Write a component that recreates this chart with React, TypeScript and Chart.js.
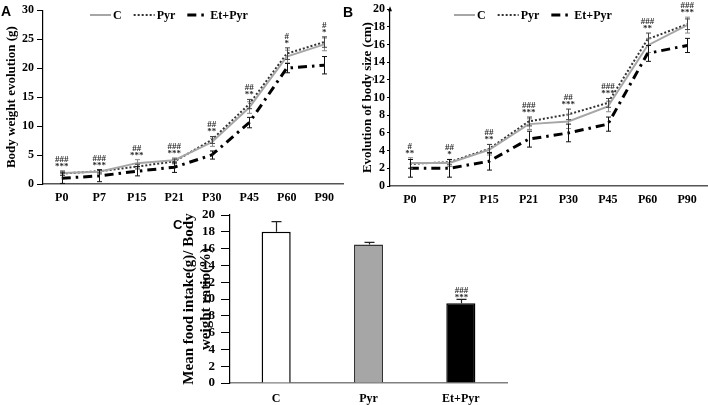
import React, { useEffect, useRef } from 'react';
import { Chart, registerables } from 'chart.js';

Chart.register(...registerables);

// ---- data ----
const days = ['P0', 'P7', 'P15', 'P21', 'P30', 'P45', 'P60', 'P90'];

const weightC = [1.9, 2.1, 3.6, 4.1, 7.2, 13.2, 22.0, 24.1];
const weightPyr = [1.8, 2.2, 3.0, 3.9, 7.6, 13.8, 22.5, 24.5];
const weightEtPyr = [1.0, 1.4, 2.2, 2.9, 5.0, 10.6, 20.0, 20.5];
const weightErrC = [0.4, 0.4, 0.6, 0.4, 0.7, 1.0, 1.1, 1.1];
const weightErrPyr = [0.3, 0.3, 0.4, 0.4, 0.6, 0.8, 1.0, 0.9];
const weightErrEtPyr = [0.9, 1.0, 0.8, 0.9, 0.7, 0.9, 0.8, 1.5];
const weightHash = ['###', '###', '##', '###', '##', '##', '#', '#'];
const weightStar = ['***', '***', '***', '***', '**', '**', '*', '*'];

const sizeC = [2.6, 2.6, 4.1, 7.0, 7.3, 9.0, 15.9, 18.2];
const sizePyr = [2.5, 2.7, 4.2, 7.3, 8.1, 9.4, 16.6, 18.3];
const sizeEtPyr = [2.0, 2.0, 2.8, 5.3, 6.0, 7.0, 15.0, 15.9];
const sizeErrC = [0.6, 0.4, 0.6, 0.6, 0.8, 0.6, 0.8, 0.9];
const sizeErrPyr = [0.5, 0.3, 0.5, 0.5, 0.6, 0.5, 0.7, 0.6];
const sizeErrEtPyr = [1.0, 1.0, 1.0, 0.9, 1.0, 0.8, 0.9, 0.8];
const sizeHash = ['#', '##', '##', '###', '##', '###', '###', '###'];
const sizeStar = ['**', '*', '**', '***', '***', '***', '**', '***'];

const groups = ['C', 'Pyr', 'Et+Pyr'];
const intake = [18.0, 16.5, 9.5];
const intakeErr = [1.2, 0.25, 0.45];
const intakeHash = ['', '', '###'];
const intakeStar = ['', '', '***'];

// ---- styles ----
const SERIF = "'Liberation Serif', 'Times New Roman', serif";
const SANS = "'Liberation Sans', Arial, sans-serif";

const styleC = { borderColor: '#a6a6a6', borderWidth: 2, borderDash: [] as number[], errColor: '#8a8a8a' };
const stylePyr = { borderColor: '#333333', borderWidth: 2, borderDash: [2, 2], errColor: '#444444' };
const styleEtPyr = { borderColor: '#000000', borderWidth: 3, borderDash: [9, 5, 2.5, 5], errColor: '#111111' };

type Extras = {
  errs: number[][];
  hash: string[];
  star: string[];
  legendX: number;
  legendY: number;
  arrow?: boolean;
};

function lineExtras(ex: Extras) {
  return {
    id: 'lineExtras',
    afterDatasetsDraw(chart: any) {
      const { ctx } = chart;
      const xs = chart.scales.x;
      const ys = chart.scales.y;
      const tops: number[] = days.map(() => Infinity);
      chart.data.datasets.forEach((ds: any, di: number) => {
        const err = ex.errs[di];
        ctx.save();
        ctx.strokeStyle = ds.errColor;
        ctx.lineWidth = 1;
        ctx.setLineDash([]);
        ds.data.forEach((v: number, i: number) => {
          const px = Math.round(xs.getPixelForValue(i)) + 0.5;
          const top = ys.getPixelForValue(v + err[i]);
          const bot = ys.getPixelForValue(v - err[i]);
          tops[i] = Math.min(tops[i], top);
          ctx.beginPath();
          ctx.moveTo(px, top);
          ctx.lineTo(px, bot);
          ctx.moveTo(px - 2.5, top);
          ctx.lineTo(px + 2.5, top);
          ctx.moveTo(px - 2.5, bot);
          ctx.lineTo(px + 2.5, bot);
          ctx.stroke();
        });
        ctx.restore();
      });
      // significance marks
      ctx.save();
      ctx.fillStyle = '#2a2a2a';
      ctx.font = `bold 9px ${SERIF}`;
      ctx.textAlign = 'center';
      ctx.textBaseline = 'alphabetic';
      days.forEach((_d, i) => {
        const px = xs.getPixelForValue(i);
        ctx.fillText(ex.star[i], px, tops[i] - 2);
        ctx.fillText(ex.hash[i], px, tops[i] - 9);
      });
      ctx.restore();
    },
    afterDraw(chart: any) {
      const { ctx } = chart;
      // legend
      ctx.save();
      ctx.font = `bold 12px ${SERIF}`;
      ctx.textBaseline = 'middle';
      ctx.fillStyle = '#000';
      let cx = ex.legendX;
      const y = ex.legendY;
      chart.data.datasets.forEach((ds: any) => {
        ctx.strokeStyle = ds.borderColor;
        ctx.lineWidth = ds.borderWidth;
        ctx.setLineDash(ds.borderDash);
        ctx.beginPath();
        ctx.moveTo(cx, y);
        ctx.lineTo(cx + 21, y);
        ctx.stroke();
        ctx.setLineDash([]);
        ctx.fillText(ds.label, cx + 23, y + 1);
        cx += 23 + ctx.measureText(ds.label).width + 12;
      });
      if (ex.arrow) {
        const ax = chart.chartArea.left;
        const at = chart.chartArea.top;
        ctx.fillStyle = '#000';
        ctx.beginPath();
        ctx.moveTo(ax, at - 3);
        ctx.lineTo(ax - 2, at + 2);
        ctx.lineTo(ax + 2, at + 2);
        ctx.closePath();
        ctx.fill();
      }
      ctx.restore();
    },
  };
}

function makeLineConfig(opts: {
  c: number[]; pyr: number[]; et: number[];
  extras: Extras;
  max: number; step: number; title: string;
  yWidth: number; xHeight: number; padTop: number; padRight: number;
  titlePad: number; tickLen: number; tickPad: number; xPad: number;
}) {
  const tickFont = { family: SERIF, size: 12, weight: 'bold' as const };
  return {
    type: 'line' as const,
    data: {
      labels: days,
      datasets: [
        { label: 'C', data: opts.c, ...styleC, pointRadius: 0, tension: 0, fill: false },
        { label: 'Pyr', data: opts.pyr, ...stylePyr, pointRadius: 0, tension: 0, fill: false },
        { label: 'Et+Pyr', data: opts.et, ...styleEtPyr, pointRadius: 0, tension: 0, fill: false },
      ],
    },
    options: {
      responsive: false,
      animation: false as const,
      events: [] as any[],
      layout: { padding: { top: opts.padTop, right: opts.padRight, left: 0, bottom: 0 } },
      plugins: { legend: { display: false }, tooltip: { enabled: false } },
      scales: {
        x: {
          offset: true,
          grid: { display: false, drawTicks: false },
          border: { color: '#555', width: 1.5 },
          ticks: { color: '#000', font: tickFont, padding: opts.xPad, autoSkip: false, maxRotation: 0 },
          afterFit: (s: any) => { s.height = opts.xHeight; },
        },
        y: {
          min: 0,
          max: opts.max,
          grid: { display: true, drawOnChartArea: false, drawTicks: true, tickLength: opts.tickLen, color: '#000' },
          border: { color: '#000', width: 1.2 },
          ticks: { stepSize: opts.step, autoSkip: false, color: '#000', font: tickFont, padding: opts.tickPad },
          title: {
            display: true,
            text: opts.title,
            color: '#000',
            font: { family: SERIF, size: 13, weight: 'bold' as const },
            padding: { top: opts.titlePad, bottom: 0 },
          },
          afterFit: (s: any) => { s.width = opts.yWidth; },
        },
      },
    },
    plugins: [lineExtras(opts.extras)],
  };
}

function WeightChart() {
  const ref = useRef<HTMLCanvasElement>(null);
  useEffect(() => {
    const chart = new Chart(ref.current!, makeLineConfig({
      c: weightC, pyr: weightPyr, et: weightEtPyr,
      extras: { errs: [weightErrC, weightErrPyr, weightErrEtPyr], hash: weightHash, star: weightStar, legendX: 90, legendY: 15 },
      max: 30, step: 5, title: 'Body weight evolution (g)',
      yWidth: 43, xHeight: 26, padTop: 9, padRight: 7, titlePad: 4, tickLen: 6, tickPad: 3, xPad: 7,
    }) as any);
    return () => chart.destroy();
  }, []);
  return <canvas ref={ref} width={350} height={210} style={{ position: 'absolute', left: 0, top: 0 }} />;
}

function SizeChart() {
  const ref = useRef<HTMLCanvasElement>(null);
  useEffect(() => {
    const chart = new Chart(ref.current!, makeLineConfig({
      c: sizeC, pyr: sizePyr, et: sizeEtPyr,
      extras: { errs: [sizeErrC, sizeErrPyr, sizeErrEtPyr], hash: sizeHash, star: sizeStar, legendX: 104, legendY: 15, arrow: true },
      max: 20, step: 2, title: 'Evolution of body size (cm)',
      yWidth: 40, xHeight: 24, padTop: 6, padRight: 1, titlePad: 10, tickLen: 3, tickPad: 2, xPad: 7,
    }) as any);
    return () => chart.destroy();
  }, []);
  return <canvas ref={ref} width={358} height={210} style={{ position: 'absolute', left: 350, top: 0 }} />;
}

const barExtras = {
  id: 'barExtras',
  afterDatasetsDraw(chart: any) {
    const { ctx } = chart;
    const xs = chart.scales.x;
    const ys = chart.scales.y;
    ctx.save();
    ctx.strokeStyle = '#222';
    ctx.lineWidth = 1.2;
    intake.forEach((v, i) => {
      const px = Math.round(xs.getPixelForValue(i)) + 0.5;
      const base = ys.getPixelForValue(v);
      const top = ys.getPixelForValue(v + intakeErr[i]);
      ctx.beginPath();
      ctx.moveTo(px, base);
      ctx.lineTo(px, top);
      ctx.moveTo(px - 5, top);
      ctx.lineTo(px + 5, top);
      ctx.stroke();
      ctx.fillStyle = '#2a2a2a';
      ctx.font = `bold 9px ${SERIF}`;
      ctx.textAlign = 'center';
      ctx.textBaseline = 'alphabetic';
      if (intakeStar[i]) ctx.fillText(intakeStar[i], px, top + 1);
      if (intakeHash[i]) ctx.fillText(intakeHash[i], px, top - 6);
    });
    ctx.restore();
  },
};

function IntakeChart() {
  const ref = useRef<HTMLCanvasElement>(null);
  useEffect(() => {
    const chart = new Chart(ref.current!, {
      type: 'bar',
      data: {
        labels: groups,
        datasets: [{
          data: intake,
          backgroundColor: ['#ffffff', '#a6a6a6', '#000000'],
          borderColor: ['#000000', '#333333', '#000000'],
          borderWidth: 1.5,
          barPercentage: 0.315,
          categoryPercentage: 1,
        }],
      },
      options: {
        responsive: false,
        animation: false,
        events: [],
        layout: { padding: { top: 20, right: 8, left: 0, bottom: 0 } },
        plugins: { legend: { display: false }, tooltip: { enabled: false } },
        scales: {
          x: {
            grid: { display: false, drawTicks: false },
            border: { color: '#808080', width: 1.5 },
            ticks: { color: '#000', font: { family: SERIF, size: 12, weight: 'bold' }, padding: 9 },
            afterFit: (s: any) => { s.height = 22; },
          },
          y: {
            min: 0,
            max: 20,
            grid: { display: true, drawOnChartArea: false, drawTicks: true, tickLength: 9, color: '#000' },
            border: { color: '#000', width: 1.2 },
            ticks: { stepSize: 2, autoSkip: false, color: '#000', font: { family: SERIF, size: 13, weight: 'bold' }, padding: 6 },
            title: {
              display: true,
              text: ['Mean food intake(g)/ Body', 'weight ratio(%)'],
              color: '#000',
              font: { family: SERIF, size: 15, weight: 'bold', lineHeight: 1.15 },
              padding: { top: 10, bottom: 0 },
            },
            afterFit: (s: any) => { s.width = 60; },
          },
        },
      } as any,
      plugins: [barExtras],
    });
    return () => chart.destroy();
  }, []);
  return <canvas ref={ref} width={345} height={210} style={{ position: 'absolute', left: 170, top: 195 }} />;
}

const letterStyle: React.CSSProperties = {
  position: 'absolute',
  fontFamily: SANS,
  fontWeight: 'bold',
  fontSize: 14,
  lineHeight: '14px',
  color: '#000',
};

export default function App() {
  return (
    <div style={{ position: 'absolute', left: 0, top: 0, width: 708, height: 405, background: '#fff', overflow: 'hidden' }}>
      <WeightChart />
      <SizeChart />
      <IntakeChart />
      <div style={{ ...letterStyle, left: 1, top: 4 }}>A</div>
      <div style={{ ...letterStyle, left: 343, top: 5 }}>B</div>
      <div style={{ ...letterStyle, fontSize: 13, left: 173, top: 218 }}>C</div>
    </div>
  );
}
